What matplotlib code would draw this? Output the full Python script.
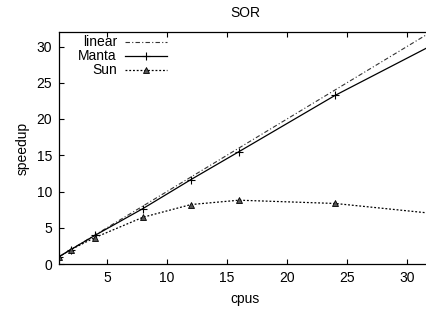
import matplotlib
matplotlib.use("Agg")
import matplotlib.pyplot as plt

cpus = [1, 2, 4, 8, 12, 16, 24, 32]
linear = [1, 2, 4, 8, 12, 16, 24, 32]
manta = [1.0, 2.0, 3.95, 7.65, 11.65, 15.5, 23.25, 30.1]
sun = [1.0, 2.0, 3.65, 6.45, 8.2, 8.8, 8.35, 7.0]

xticks = [5, 10, 15, 20, 25, 30]
yticks = [0, 5, 10, 15, 20, 25, 30]

plt.rcParams['font.family'] = ['Liberation Sans', 'DejaVu Sans']
plt.rcParams['font.size'] = 10

W, H = 427, 312
fig = plt.figure(figsize=(W / 100, H / 100), dpi=100)
ax = fig.add_axes([59 / W, (H - 264) / H, 372 / W, 232 / H])

ax.plot(cpus, linear, color='#333333', lw=0.8, dashes=[4, 2, 1, 2], label='linear')
ax.plot(cpus, manta, color='black', lw=0.9, marker='+', markersize=6,
        markeredgewidth=0.8, label='Manta')
ax.plot(cpus, sun, color='black', lw=0.9, dashes=[1.5, 1.5], marker='^',
        markersize=4, markerfacecolor='#555555', markeredgecolor='black',
        markeredgewidth=0.6, label='Sun')

ax.set_xlim(1, 32)
ax.set_ylim(0, 32)
ax.set_xticks(xticks)
ax.set_yticks(yticks)
ax.tick_params(direction='in', length=3.5, width=0.8, top=True, right=False, pad=5,
               labelsize=10)
for s in ax.spines.values():
    s.set_linewidth(0.9)

ax.set_title('SOR', fontsize=10, pad=11)
ax.set_xlabel('cpus', fontsize=10, labelpad=5)
ax.set_ylabel('speedup', fontsize=10, labelpad=5)

ax.legend(loc='upper right', bbox_to_anchor=(0.29, 0.985), frameon=False,
          markerfirst=False, borderpad=0, borderaxespad=0, labelspacing=0.0,
          handlelength=3.0, handletextpad=0.6, fontsize=10)

fig.savefig('out.png', dpi=100)
